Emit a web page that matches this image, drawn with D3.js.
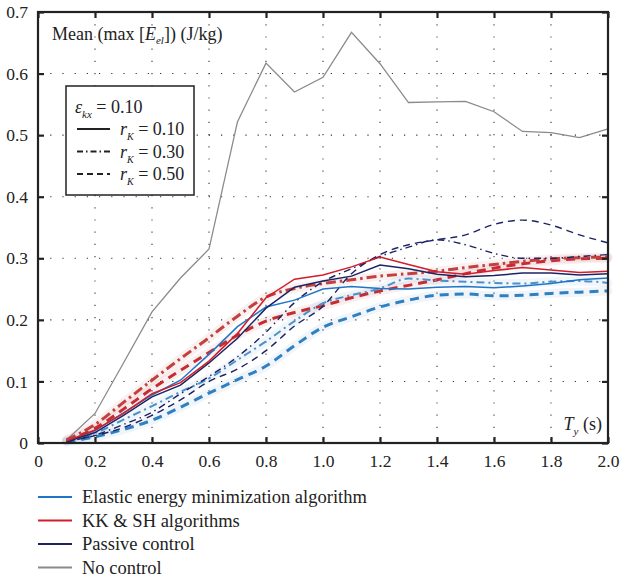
<!DOCTYPE html>
<html>
<head>
<meta charset="utf-8">
<script src="https://cdn.jsdelivr.net/npm/d3@7"></script>
<style>
  body { margin: 0; background: #fff; }
  svg text { font-family: "Liberation Serif", "Times New Roman", "DejaVu Serif", serif !important; fill: #222; }
</style>
</head>
<body>
<div id="chart"></div>
<script>
// periods T_y (s)
const periods = [0.1, 0.2, 0.3, 0.4, 0.5, 0.6, 0.7, 0.8, 0.9, 1.0, 1.1, 1.2, 1.3, 1.4, 1.5, 1.6, 1.7, 1.8, 1.9, 2.0];

// No control
const noControl = [0.005, 0.048, 0.130, 0.213, 0.268, 0.315, 0.522, 0.617, 0.570, 0.594, 0.667, 0.616, 0.553, 0.554, 0.555, 0.538, 0.506, 0.504, 0.496, 0.510];

// Elastic energy minimization algorithm
const eemR10 = [0.003, 0.020, 0.049, 0.078, 0.102, 0.144, 0.189, 0.221, 0.232, 0.250, 0.254, 0.251, 0.250, 0.253, 0.254, 0.252, 0.255, 0.259, 0.265, 0.268];
const eemR30 = [0.003, 0.016, 0.038, 0.060, 0.083, 0.105, 0.135, 0.165, 0.198, 0.227, 0.240, 0.251, 0.267, 0.264, 0.262, 0.260, 0.259, 0.262, 0.263, 0.260];
const eemR50 = [0.002, 0.010, 0.022, 0.037, 0.058, 0.081, 0.103, 0.125, 0.158, 0.188, 0.205, 0.221, 0.232, 0.240, 0.242, 0.239, 0.240, 0.243, 0.245, 0.247];

// KK & SH algorithms
const kkR10 = [0.003, 0.021, 0.048, 0.080, 0.098, 0.133, 0.178, 0.236, 0.266, 0.273, 0.286, 0.302, 0.290, 0.278, 0.274, 0.280, 0.285, 0.281, 0.277, 0.279];
const kkR30 = [0.005, 0.030, 0.066, 0.102, 0.137, 0.171, 0.206, 0.237, 0.251, 0.259, 0.265, 0.271, 0.275, 0.279, 0.285, 0.290, 0.295, 0.299, 0.301, 0.302];
const kkR50 = [0.004, 0.024, 0.055, 0.088, 0.118, 0.147, 0.175, 0.198, 0.212, 0.223, 0.236, 0.247, 0.256, 0.265, 0.275, 0.284, 0.291, 0.296, 0.299, 0.300];

// Passive control
const passR10 = [0.002, 0.017, 0.045, 0.075, 0.094, 0.130, 0.170, 0.219, 0.253, 0.263, 0.271, 0.289, 0.283, 0.274, 0.270, 0.272, 0.276, 0.276, 0.273, 0.275];
const passR30 = [0.002, 0.013, 0.030, 0.050, 0.080, 0.108, 0.140, 0.180, 0.228, 0.262, 0.283, 0.303, 0.318, 0.330, 0.322, 0.308, 0.300, 0.300, 0.303, 0.306];
const passR50 = [0.002, 0.012, 0.025, 0.045, 0.070, 0.100, 0.120, 0.150, 0.190, 0.222, 0.275, 0.306, 0.322, 0.330, 0.338, 0.355, 0.362, 0.354, 0.338, 0.325];

const xTicks = [0, 0.2, 0.4, 0.6, 0.8, 1.0, 1.2, 1.4, 1.6, 1.8, 2.0];
const yTicks = [0, 0.1, 0.2, 0.3, 0.4, 0.5, 0.6, 0.7];
const methodNames = ["Elastic energy minimization algorithm", "KK & SH algorithms", "Passive control", "No control"];
const rkLabels = ["0.10", "0.30", "0.50"];

const serif = "'Liberation Serif', 'Times New Roman', 'DejaVu Serif', serif";

const colors = {eem: "#1f76c6", eemLight: "#4a92c9", eemDash: "#3080bf",
                kk: "#d01e2a", kkLight: "#c2413f", kkDash: "#c52d33",
                pass: "#1c2364", none: "#8a8a8a"};

const series = [
  {v: noControl, color: colors.none, w: 1.3, dash: null, smooth: false},
  {v: eemR50, color: colors.eemDash, w: 3, dash: "9,6", smooth: true, halo: true},
  {v: kkR50, color: colors.kkDash, w: 3, dash: "9,6", smooth: true, halo: true},
  {v: kkR30, color: colors.kkLight, w: 3, dash: "10,4,2.5,4", smooth: true, halo: true},
  {v: eemR30, color: colors.eemLight, w: 2, dash: "8,4,2,4", smooth: true, halo: true},
  {v: passR50, color: colors.pass, w: 1.4, dash: "7,5", smooth: true},
  {v: passR30, color: colors.pass, w: 1.4, dash: "7,4,1.5,4", smooth: true},
  {v: eemR10, color: colors.eem, w: 1.5, dash: null, smooth: false},
  {v: passR10, color: colors.pass, w: 1.5, dash: null, smooth: false},
  {v: kkR10, color: colors.kk, w: 1.5, dash: null, smooth: false}
];

const margin = {top: 12, left: 38},
    width = 570, height = 431;

const svg = d3.select("#chart").append("svg")
    .attr("width", 620).attr("height", 580)
    .attr("font-family", serif);
const g = svg.append("g").attr("transform", `translate(${margin.left},${margin.top})`);

const x = d3.scaleLinear().domain([0, 2]).range([0, width]);
const y = d3.scaleLinear().domain([0, 0.7]).range([height, 0]);

// dotted grid
g.append("g").selectAll("line").data(xTicks.slice(1, -1)).enter().append("line")
    .attr("x1", d => x(d)).attr("x2", d => x(d))
    .attr("y1", 0).attr("y2", height)
    .attr("stroke", "#333").attr("stroke-width", 1.1).attr("stroke-dasharray", "1.2,11");
g.append("g").selectAll("line").data(yTicks.slice(1, -1)).enter().append("line")
    .attr("y1", d => y(d)).attr("y2", d => y(d))
    .attr("x1", 0).attr("x2", width)
    .attr("stroke", "#333").attr("stroke-width", 1.1).attr("stroke-dasharray", "1.2,11");

// lines
const lineOf = (smooth) => d3.line()
    .x((d, i) => x(periods[i]))
    .y(d => y(d))
    .curve(smooth ? d3.curveMonotoneX : d3.curveLinear);

series.filter(s => s.halo).forEach(s => {
  g.append("path").datum(s.v)
      .attr("d", lineOf(s.smooth))
      .attr("fill", "none").attr("stroke", s.color)
      .attr("stroke-width", 9).attr("stroke-opacity", 0.08)
      .attr("stroke-linecap", "round");
});
series.forEach(s => {
  g.append("path").datum(s.v)
      .attr("d", lineOf(s.smooth))
      .attr("fill", "none").attr("stroke", s.color)
      .attr("stroke-width", s.w)
      .attr("stroke-dasharray", s.dash);
});

// axes with inward ticks
const axB = g.append("g").attr("transform", `translate(0,${height})`)
    .call(d3.axisBottom(x).tickValues(xTicks).tickSizeInner(-6).tickSizeOuter(0)
      .tickPadding(12).tickFormat(d => d === 0 ? "0" : d3.format(".1f")(d)));
const axT = g.append("g")
    .call(d3.axisTop(x).tickValues(xTicks).tickSizeInner(-6).tickSizeOuter(0).tickFormat(""));
const axL = g.append("g")
    .call(d3.axisLeft(y).tickValues(yTicks).tickSizeInner(-6).tickSizeOuter(0)
      .tickPadding(10).tickFormat(d => d === 0 ? "0" : d3.format(".1f")(d)));
const axR = g.append("g").attr("transform", `translate(${width},0)`)
    .call(d3.axisRight(y).tickValues(yTicks).tickSizeInner(-6).tickSizeOuter(0).tickFormat(""));
[axB, axT, axL, axR].forEach(a => {
  a.attr("font-family", serif).attr("font-size", 17.5);
  a.select(".domain").remove();
  a.selectAll("line").attr("stroke", "#222").attr("stroke-width", 2.2);
  a.selectAll("text").attr("fill", "#222");
});

// frame
g.append("rect").attr("width", width).attr("height", height)
    .attr("fill", "none").attr("stroke", "#222").attr("stroke-width", 2.2);

// y label inside
const yl = g.append("text").attr("x", 14).attr("y", 28).style("font-size", "18px");
yl.append("tspan").text("Mean (max [");
yl.append("tspan").style("font-style", "italic").text("E");
yl.append("tspan").attr("dy", 4).style("font-size", "11px").style("font-style", "italic").text("el");
yl.append("tspan").attr("dy", -4).text("]) (J/kg)");

// x label inside
const xl = g.append("text").attr("x", width - 6).attr("y", height - 13)
    .attr("text-anchor", "end").style("font-size", "18px");
xl.append("tspan").style("font-style", "italic").text("T");
xl.append("tspan").attr("dy", 5).style("font-size", "11px").style("font-style", "italic").text("y");
xl.append("tspan").attr("dy", -5).text(" (s)");

// inner legend (r_K line styles)
const lg = g.append("g").attr("transform", "translate(28,74)");
lg.append("rect").attr("width", 128).attr("height", 109)
    .attr("fill", "#fff").attr("stroke", "#222").attr("stroke-width", 1.5);
const eps = lg.append("text").attr("x", 9).attr("y", 27).style("font-size", "18px");
eps.append("tspan").style("font-style", "italic").text("ε");
eps.append("tspan").attr("dy", 5).style("font-size", "11px").style("font-style", "italic").text("kx");
eps.append("tspan").attr("dy", -5).text(" = 0.10");
const legDash = [null, "6,3,1.5,3", "6,4"];
rkLabels.forEach((lab, i) => {
  const yy = 43 + i * 22.5;
  lg.append("line").attr("x1", 11).attr("x2", 44).attr("y1", yy).attr("y2", yy)
      .attr("stroke", "#222").attr("stroke-width", 1.8).attr("stroke-dasharray", legDash[i]);
  const t = lg.append("text").attr("x", 54).attr("y", yy + 6).style("font-size", "18px");
  t.append("tspan").style("font-style", "italic").text("r");
  t.append("tspan").attr("dy", 5).style("font-size", "10px").style("font-style", "italic").text("K");
  t.append("tspan").attr("dy", -5).text(" = " + lab);
});

// bottom legend (methods)
const methodColors = [colors.eem, colors.kk, colors.pass, colors.none];
const bl = svg.append("g").attr("transform", "translate(38,497)");
methodNames.forEach((name, i) => {
  const yy = i * 23.5;
  bl.append("line").attr("x1", 0).attr("x2", 34).attr("y1", yy).attr("y2", yy)
      .attr("stroke", methodColors[i]).attr("stroke-width", 2);
  bl.append("text").attr("x", 44).attr("y", yy + 6).style("font-size", "18.5px").text(name);
});
</script>
</body>
</html>
